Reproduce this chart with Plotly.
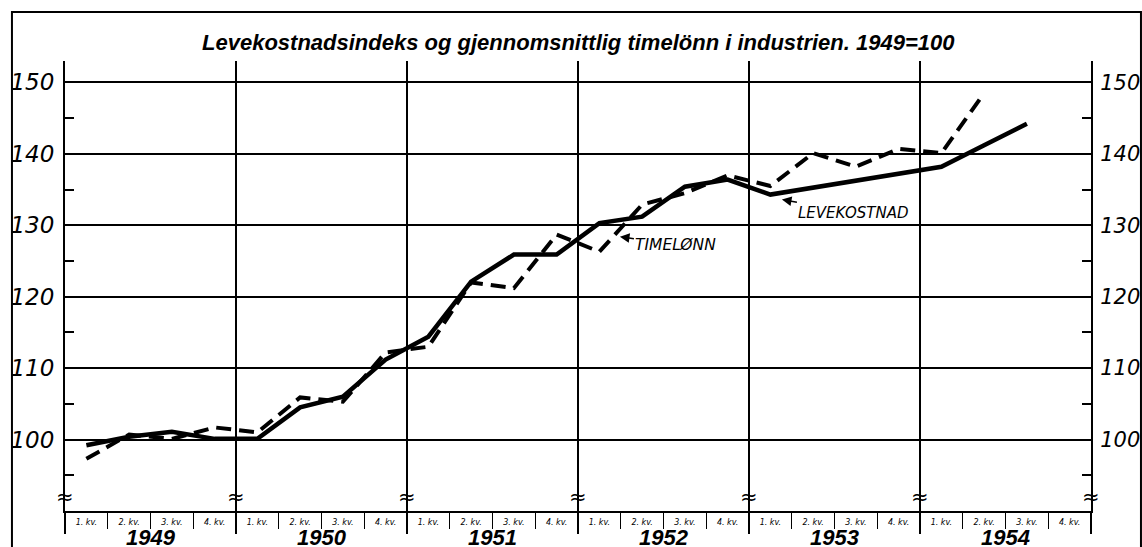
import plotly.graph_objects as go

# ---------------- data ----------------
years = ["1949", "1950", "1951", "1952", "1953", "1954"]
quarter_labels = ["1. kv.", "2. kv.", "3. kv.", "4. kv."]

levekostnad = [99.2, 100.4, 101.1, 100.1,
               100.1, 104.5, 106.0, 111.2,
               114.4, 122.1, 125.9, 125.9,
               130.3, 131.2, 135.4, 136.4,
               134.3, 135.3, 136.3, 137.3,
               138.2, 141.2, 144.2, None]

timelonn = [97.3, 100.7, 100.1, 101.7,
            101.0, 105.9, 105.3, 112.2,
            113.0, 122.0, 121.2, 128.7,
            126.3, 132.9, 134.5, 137.0,
            135.5, 140.1, 138.2, 140.7,
            140.1, 148.5, None, None]

y_ticks = [100, 110, 120, 130, 140, 150]
y_minor = [95, 105, 115, 125, 135, 145]

title_text = "Levekostnadsindeks og gjennomsnittlig timelönn i industrien. 1949=100"

# ---------------- derived positions ----------------
nq = len(years) * 4
xq = [i + 0.5 for i in range(nq)]          # quarter centres
qtext = [quarter_labels[i % 4] for i in range(nq)]
year_bounds = list(range(0, nq + 1, 4))
quarter_bounds = list(range(0, nq + 1))

FONT = "DejaVu Sans"
TITLE_FONT = "Liberation Sans"

fig = go.Figure()

# solid line: levekostnad
fig.add_trace(go.Scatter(
    x=xq, y=levekostnad, mode="lines", name="Levekostnad",
    line=dict(color="black", width=4.5), connectgaps=False,
    showlegend=False, hoverinfo="skip"))

# dashed line: timelønn
fig.add_trace(go.Scatter(
    x=xq, y=timelonn, mode="lines", name="Timelønn",
    line=dict(color="black", width=4, dash="15px,8px"), connectgaps=False,
    showlegend=False, hoverinfo="skip"))

# invisible helper trace to activate secondary axes
fig.add_trace(go.Scatter(
    x=xq, y=levekostnad, mode="lines", xaxis="x2", yaxis="y2",
    line=dict(color="rgba(0,0,0,0)", width=0),
    showlegend=False, hoverinfo="skip"))

common_y = dict(
    range=[90, 153], automargin=False,
    tickmode="array", tickvals=y_ticks, ticktext=[str(v) for v in y_ticks],
    ticks="", showline=True, linecolor="black", linewidth=2,
    zeroline=False,
    minor=dict(tickmode="array", tickvals=y_minor, ticks="inside",
               ticklen=9, tickwidth=1.5, tickcolor="black", showgrid=False),
)

fig.update_layout(
    width=1142, height=547, autosize=False,
    margin=dict(l=65, r=51, t=61, b=36, autoexpand=False),
    paper_bgcolor="white", plot_bgcolor="white",
    showlegend=False,
    xaxis=dict(
        range=[0, nq], automargin=False,
        tickmode="array", tickvals=xq, ticktext=qtext,
        ticks="", showgrid=False, zeroline=False,
        showline=True, linecolor="black", linewidth=2,
        tickfont=dict(family=FONT, size=8, color="black", style="italic"),
        ticklabelstandoff=2,
        minor=dict(tickmode="array", tickvals=quarter_bounds, ticks="outside",
                   ticklen=16, tickwidth=1.3, tickcolor="black", showgrid=False),
    ),
    xaxis2=dict(
        range=[0, nq], overlaying="x", side="bottom", anchor="y", automargin=False,
        tickmode="array", tickvals=year_bounds, ticks="outside",
        ticklen=22, tickwidth=2, tickcolor="black",
        showticklabels=False, showgrid=True, gridcolor="black", gridwidth=1.5,
        zeroline=False, showline=False,
    ),
    yaxis=dict(**common_y, showgrid=True, gridcolor="black", gridwidth=2,
               side="left", ticklabelstandoff=4,
               tickfont=dict(family=FONT, size=23, color="black", style="italic")),
    yaxis2=dict(**common_y, showgrid=False, overlaying="y", side="right",
                anchor="x2", ticklabelstandoff=3,
                tickfont=dict(family=FONT, size=21, color="black", style="italic")),
)

annotations = []
# title
annotations.append(dict(
    text=title_text, xref="paper", yref="paper", x=0.5, y=1.04,
    xanchor="center", yanchor="middle", showarrow=False,
    font=dict(family=TITLE_FONT, size=22, color="black",
              style="italic", weight="bold")))
# year labels
for i, yr in enumerate(years):
    annotations.append(dict(
        text=yr, x=4 * i + 2, xref="x", y=-0.058, yref="paper",
        xanchor="center", yanchor="middle", showarrow=False,
        font=dict(family=TITLE_FONT, size=22, color="black",
                  style="italic", weight="bold")))
# break marks
for b in year_bounds:
    annotations.append(dict(
        text="≈", x=b, xref="x", y=92.0, yref="y",
        xanchor="center", yanchor="middle", showarrow=False,
        font=dict(family=FONT, size=21, color="black")))
# line labels with arrows
annotations.append(dict(
    text="TIMELØNN", x=12.98, y=128.4, xref="x", yref="y",
    ax=56, ay=8, showarrow=True, arrowhead=2, arrowsize=1.2,
    arrowwidth=1.6, arrowcolor="black", standoff=0,
    font=dict(family=FONT, size=15.5, color="black", style="italic")))
annotations.append(dict(
    text="LEVEKOSTNAD", x=16.77, y=133.6, xref="x", yref="y",
    ax=72, ay=13, showarrow=True, arrowhead=2, arrowsize=1.2,
    arrowwidth=1.6, arrowcolor="black", standoff=0,
    font=dict(family=FONT, size=15, color="black", style="italic")))
fig.update_layout(annotations=annotations)

# outer frame
fig.add_shape(type="path",
              path="M -0.0517,-0.3 L -0.0517,1.109 L 1.0487,1.109 L 1.0487,-0.3",
              xref="paper", yref="paper",
              line=dict(color="black", width=2))

fig.write_html("out.html", config={"displayModeBar": False},
               post_script="document.body.style.margin='0';document.body.style.overflow='hidden';")
